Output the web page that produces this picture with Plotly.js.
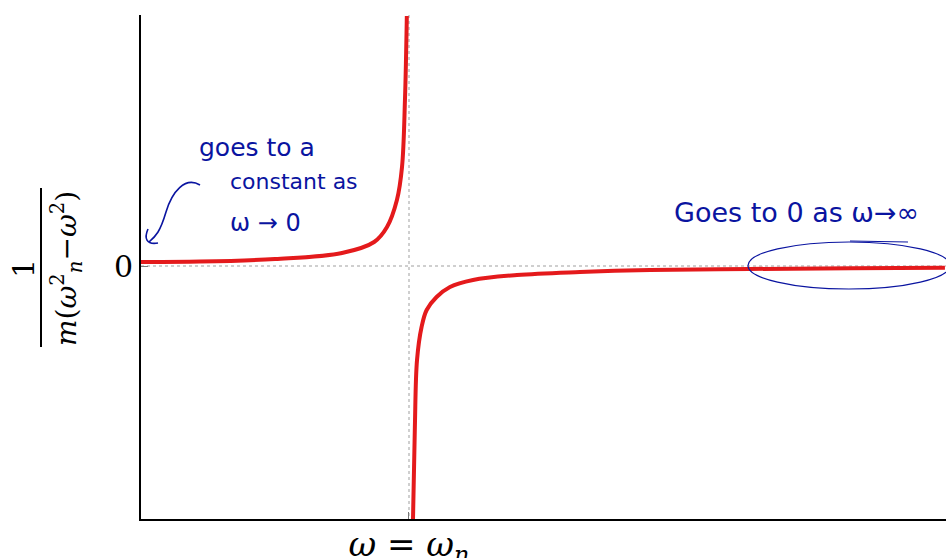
<!DOCTYPE html>
<html>
<head>
<meta charset="utf-8">
<script src="https://cdn.plot.ly/plotly-3.0.1.min.js"></script>
<style>html,body{margin:0;padding:0;background:#fff;}#chart{width:946px;height:558px;}</style>
</head>
<body>
<div id="chart"></div>
<script>
// omega in units of omega_n; response in arbitrary units
const leftOmega = [0.0, 0.22, 0.50, 0.75, 0.87, 0.918, 0.955, 0.974, 0.985, 0.992];
const leftResp  = [1.0, 1.1, 1.75, 3.25, 6.0, 9.75, 16.5, 24.75, 41.5, 62.5];
const rightOmega = [1.015, 1.022, 1.030, 1.047, 1.066, 1.103, 1.153, 1.239, 1.403, 1.638, 1.90, 2.27, 2.65, 3.0];
const rightResp  = [-63.3, -40.25, -23.5, -15.25, -11.0, -7.75, -5.25, -3.5, -2.25, -1.5, -1.0, -0.75, -0.55, -0.45];
const yTickVals = [0];
const yTickText = ['0'];
const xTickVals = [1];
const xTickText = ['<i>ω</i> = <i>ω</i><sub><i>n</i></sub>'];

const red = 'rgb(228,26,28)';
const ink = 'rgb(10,20,160)';
const hand = 'DejaVu Sans, sans-serif';

// pixel helpers for paper coordinates (plot area: x 141..946, y 15..519)
const px = p => (p - 141) / 805;
const py = p => (519 - p) / 504;

const traces = [
  {x: leftOmega, y: leftResp, mode: 'lines', line: {color: red, width: 4, shape: 'spline'}, hoverinfo: 'skip'},
  {x: rightOmega, y: rightResp, mode: 'lines', line: {color: red, width: 4, shape: 'spline'}, hoverinfo: 'skip'}
];

function ann(x, y, text, size, color, family, extra) {
  return Object.assign({xref: 'paper', yref: 'paper', x: px(x), y: py(y), text: text, showarrow: false,
    xanchor: 'center', yanchor: 'middle', font: {family: family, size: size, color: color}}, extra || {});
}

const layout = {
  width: 946, height: 558,
  margin: {l: 141, r: 0, t: 15, b: 39},
  paper_bgcolor: '#fff', plot_bgcolor: '#fff',
  showlegend: false,
  xaxis: {
    range: [0, 3.004], tickvals: xTickVals, ticktext: xTickText,
    showline: true, linecolor: '#000', linewidth: 2,
    ticks: 'inside', ticklen: 7, tickcolor: '#777', tickwidth: 1,
    showgrid: true, gridcolor: '#cfcfcf', gridwidth: 1.5, griddash: 'dot',
    zeroline: false, fixedrange: true, ticklabelstandoff: -6,
    tickfont: {family: 'DejaVu Serif, serif', size: 34, color: '#000'}
  },
  yaxis: {
    range: [-63.25, 62.75], tickvals: yTickVals, ticktext: yTickText,
    showline: true, linecolor: '#000', linewidth: 2,
    ticks: 'inside', ticklen: 7, tickcolor: '#777', tickwidth: 1,
    showgrid: true, gridcolor: '#cfcfcf', gridwidth: 1.5, griddash: 'dot',
    zeroline: false, fixedrange: true,
    tickfont: {family: 'DejaVu Serif, serif', size: 30, color: '#000'}
  },
  shapes: [
    // fraction bar of y label
    {type: 'path', xref: 'paper', yref: 'paper', layer: 'above',
     path: 'M ' + px(41) + ',' + py(188) + ' L ' + px(41) + ',' + py(347),
     line: {color: '#000', width: 2}},
    // ellipse around the tail
    {type: 'circle', xref: 'paper', yref: 'paper', x0: px(748), x1: px(950), y0: py(289), y1: py(242), line: {color: ink, width: 1.2}},
    {type: 'line', xref: 'paper', yref: 'paper', x0: px(850), x1: px(908), y0: py(241), y1: py(242), line: {color: ink, width: 1.2}},
    // curved hand-drawn arrow
    {type: 'path', xref: 'paper', yref: 'paper',
     path: 'M ' + px(200) + ',' + py(185) + ' C ' + px(185) + ',' + py(176) + ' ' + px(172) + ',' + py(192) + ' ' + px(166) + ',' + py(212) +
           ' S ' + px(156) + ',' + py(236) + ' ' + px(149) + ',' + py(242),
     line: {color: ink, width: 1.6}},
    {type: 'path', xref: 'paper', yref: 'paper',
     path: 'M ' + px(148) + ',' + py(229) + ' C ' + px(144) + ',' + py(238) + ' ' + px(146) + ',' + py(245) + ' ' + px(158) + ',' + py(243),
     line: {color: ink, width: 1.6}}
  ],
  annotations: [
    ann(23, 268, '1', 30, '#000', 'DejaVu Serif, serif', {textangle: -90}),
    ann(66, 269, '<i>m</i>(<i>ω</i><sup>2</sup><sub><i>n</i></sub>−<i>ω</i><sup>2</sup>)', 28, '#000', 'DejaVu Serif, serif', {textangle: -90}),
    ann(197, 148, 'goes to a', 25, ink, hand, {xanchor: 'left'}),
    ann(228, 181, 'constant as', 22, ink, hand, {xanchor: 'left'}),
    ann(228, 223, 'ω → 0', 24, ink, hand, {xanchor: 'left'}),
    ann(672, 212, 'Goes to 0 as ω→∞', 27, ink, hand, {xanchor: 'left'})
  ]
};

Plotly.newPlot('chart', traces, layout, {staticPlot: true, displayModeBar: false});
</script>
</body>
</html>
